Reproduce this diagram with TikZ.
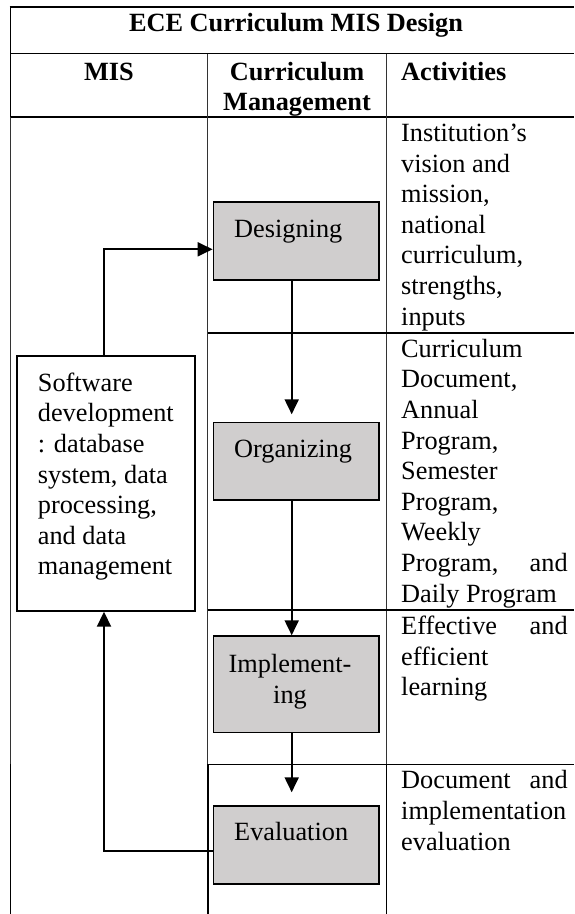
\documentclass[tikz,border=0pt]{standalone}
\usepackage{fontspec}
\setmainfont{Liberation Serif}
\usetikzlibrary{arrows.meta,calc}
\definecolor{boxgray}{RGB}{208,206,206}
\begin{document}
\begin{tikzpicture}[x=1pt,y=-1pt,
  tline/.style={line width=1.6pt, black},
  thinl/.style={line width=0.7pt, black!80},
  graybox/.style={draw=black, line width=1.5pt, fill=boxgray, minimum width=165.7pt, inner sep=0pt},
  misbox/.style={draw=black, line width=1.9pt, minimum width=178.3pt, minimum height=254.7pt, inner sep=0pt},
  txt/.style={font=\fontsize{26.3}{30.6}\selectfont, inner sep=0pt},
  hdr/.style={font=\fontsize{26.3}{30.6}\selectfont\bfseries, inner sep=0pt},
  act/.style={txt, anchor=north west, text width=166.5pt, align=flush left},
  flow/.style={line width=1.9pt, -{Triangle[length=15pt,width=14pt]}},
]
\useasboundingbox (0,0) rectangle (574,914);
\fill[white] (0,0) rectangle (574,914);

% table rules
\draw[tline] (9.7,7) -- (574,7);
\draw[tline] (10.5,53.5) -- (574,53.5);
\draw[tline] (10.5,117) -- (574,117);
\draw[tline] (10.5,6.2) -- (10.5,117);
\draw[thinl] (10.5,117) -- (10.5,764.3);
\draw[tline] (10.5,764.3) -- (10.5,914);
\draw[thinl] (207.7,53.5) -- (207.7,764.3);
\draw[tline] (207.7,764.3) -- (207.7,914);
\draw[thinl] (386.3,53.5) -- (386.3,764.3);
\draw[tline] (386.3,764.3) -- (386.3,914);
\draw[tline] (207.7,332.7) -- (574,332.7);
\draw[tline] (207.7,610) -- (574,610);
\draw[tline] (207.7,764.3) -- (574,764.3);

% headers
\node[hdr, anchor=base] (title) at (296,31.7) {ECE Curriculum MIS Design};
\node[hdr, anchor=base] (hmis) at (108.9,80) {MIS};
\node[hdr, anchor=north, text width=178pt, align=center] (hcm) at (297,58.6) {\strut Curriculum\\Management};
\node[hdr, anchor=base west] (hact) at (401,80) {Activities};

% activities
\node[act] (a1) at (401,119.9) {\strut Institution’s\\vision and\\mission,\\national\\curriculum,\\strengths,\\inputs};
\node[act] (a2) at (401,335.6) {\strut Curriculum\\Document,\\Annual\\Program,\\Semester\\Program,\\Weekly\\Program,\hfill and\\Daily Program};
\node[act] (a3) at (401,612.9) {\strut Effective\hfill and\\efficient\\learning};
\node[act] (a4) at (401,767.2) {\strut Document\hfill and\\implementation\\evaluation};

% boxes
\node[graybox, minimum height=78pt] (designing) at (296.2,241) {};
\node[graybox, minimum height=77.7pt] (organizing) at (296.2,461.2) {};
\node[graybox, minimum height=96.3pt] (implementing) at (296.2,684.2) {};
\node[graybox, minimum height=78.3pt] (evaluation) at (296.2,844.9) {};
\node[misbox] (mis) at (105.9,483.4) {};

\node[txt, anchor=base west] (designing-label) at (234,237.4) {Designing};
\node[txt, anchor=base west] (organizing-label) at (234,457.4) {Organizing};
\node[txt, anchor=north, text width=160pt, align=center] (implementing-label) at (290,651) {\strut Implement-\\ing};
\node[txt, anchor=base west] (evaluation-label) at (234,840.4) {Evaluation};
\node[txt, anchor=north west, text width=155pt, align=flush left] (mis-label) at (37.7,369.6) {\strut Software\\development\\: database\\system, data\\processing,\\and data\\management};

% connectors
\coordinate (axis) at (291.7,0);
\coordinate (up) at (104,249.3);
\coordinate (fb) at (104,850.7);
\draw[flow, shorten >=7.3pt] (designing.south -| axis) -- (organizing.north -| axis);
\draw[flow] (organizing.south -| axis) -- (implementing.north -| axis);
\draw[flow, shorten >=12.7pt] (implementing.south -| axis) -- (evaluation.north -| axis);
\draw[flow] (evaluation.west |- fb) -- (fb) -- (mis.south -| fb);
\draw[flow] (mis.north -| up) -- (up) -- (up -| designing.west);
\end{tikzpicture}
\end{document}
